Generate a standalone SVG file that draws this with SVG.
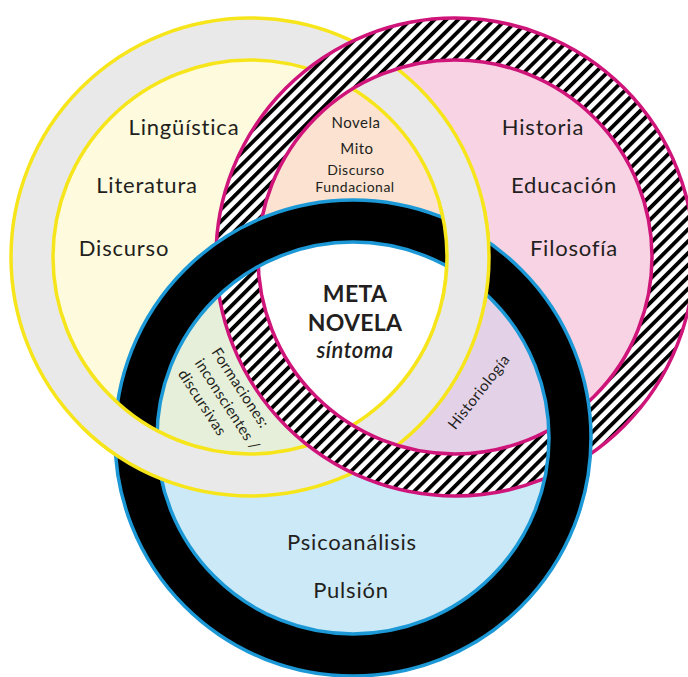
<svg xmlns="http://www.w3.org/2000/svg" width="688" height="677" viewBox="0 0 688 677">
<style>
.lbl{font-family:Lato,"Noto Sans",sans-serif;font-size:22px;fill:#231f20;text-anchor:middle;letter-spacing:0.8px}
.sm{font-size:15px;letter-spacing:0.5px}
.xs{font-size:14px}
.ctr{font-weight:bold;font-size:23px;letter-spacing:0.3px}
.it{font-style:italic;font-weight:600;letter-spacing:0.5px}
.rot{font-size:15px;letter-spacing:0.4px}
.yl{fill:none;stroke:#f7e51b;stroke-width:3.5}
.mg{fill:none;stroke:#cf157a;stroke-width:3.5}
.bl{fill:none;stroke:#1b98d5;stroke-width:3.5}
</style>
<defs>
<pattern id="hatch" width="8.4" height="8.4" patternUnits="userSpaceOnUse" patternTransform="rotate(45)">
<rect width="8.4" height="8.4" fill="#fff"/><rect width="3.8" height="8.4" fill="#000"/>
</pattern>
<clipPath id="cL"><circle cx="250" cy="257" r="197"/></clipPath>
<clipPath id="cR"><circle cx="455" cy="257" r="197"/></clipPath>
<clipPath id="cX"><circle cx="134" cy="442" r="55"/><circle cx="468" cy="252" r="55"/></clipPath>
</defs>
<rect width="688" height="677" fill="#fff"/>
<g id="fills">
<circle cx="250" cy="257" r="197" fill="#fefadd"/>
<circle cx="455" cy="257" r="197" fill="#f8d3e4"/>
<circle cx="353" cy="438" r="196" fill="#cce9f8"/>
<circle cx="455" cy="257" r="197" fill="#fce2d0" clip-path="url(#cL)"/>
<circle cx="353" cy="438" r="196" fill="#e6efd9" clip-path="url(#cL)"/>
<circle cx="353" cy="438" r="196" fill="#e3d1e7" clip-path="url(#cR)"/>
<g clip-path="url(#cL)"><circle cx="353" cy="438" r="196" fill="#fff" clip-path="url(#cR)"/></g>
</g>
<g id="ring-left">
<circle cx="250" cy="257" r="218" fill="none" stroke="#e9e9e9" stroke-width="42"/>
<circle class="yl" cx="250" cy="257" r="239"/>
<circle class="yl" cx="250" cy="257" r="197"/>
</g>
<g id="ring-right">
<circle cx="455" cy="257" r="218" fill="none" stroke="url(#hatch)" stroke-width="42"/>
<circle class="mg" cx="455" cy="257" r="239"/>
<circle class="mg" cx="455" cy="257" r="197"/>
</g>
<g id="ring-bottom">
<circle cx="353" cy="438" r="217" fill="none" stroke="#000" stroke-width="42"/>
<circle class="bl" cx="353" cy="438" r="238"/>
<circle class="bl" cx="353" cy="438" r="196"/>
</g>
<use href="#ring-left" clip-path="url(#cX)"/>
<g id="labels-left" class="lbl">
<text x="184" y="135">Lingüística</text>
<text x="147" y="193">Literatura</text>
<text x="124" y="256">Discurso</text>
</g>
<g id="labels-right" class="lbl">
<text x="543" y="135">Historia</text>
<text x="564" y="193">Educación</text>
<text x="574" y="256">Filosofía</text>
</g>
<g id="labels-top" class="lbl sm">
<text x="356" y="128">Novela</text>
<text x="357" y="154">Mito</text>
<text class="xs" x="356" y="175">Discurso</text>
<text class="xs" x="355" y="192">Fundacional</text>
</g>
<g id="labels-center" class="lbl">
<text class="ctr" x="355" y="302">META</text>
<text class="ctr" x="355" y="331">NOVELA</text>
<text class="it" x="355" y="358">síntoma</text>
</g>
<g id="label-formaciones" class="lbl rot" transform="translate(211,352) rotate(57)">
<text x="0" y="0" text-anchor="start">Formaciones:</text>
<text x="0" y="20" text-anchor="start">inconscientes /</text>
<text x="0" y="40" text-anchor="start">discursivas</text>
</g>
<g id="label-historiologia" class="lbl sm" transform="translate(483,395) rotate(-52)">
<text x="0" y="0">Historiología</text>
</g>
<g id="labels-bottom" class="lbl">
<text x="352" y="550">Psicoanálisis</text>
<text x="351" y="598">Pulsión</text>
</g>
</svg>
